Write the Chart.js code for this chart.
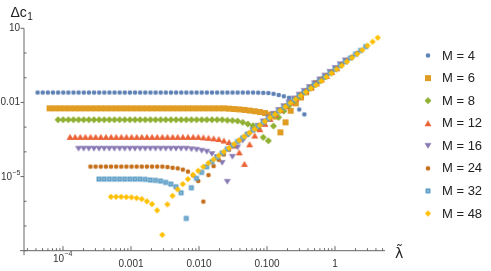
<!DOCTYPE html>
<html>
<head>
<meta charset="utf-8">
<script src="https://cdn.jsdelivr.net/npm/chart.js@4.4.1/dist/chart.umd.min.js"></script>
<style>
  html, body { margin: 0; padding: 0; background: #fff; }
  #wrap { position: relative; width: 491px; height: 271px; }
</style>
</head>
<body>
<div id="wrap"><canvas id="chart" width="491" height="271"></canvas></div>
<script>
// base coupling grid (lambda-tilde = M * lambda)
const lambdaGrid = [
  1.057e-5, 1.257e-5, 1.496e-5, 1.780e-5, 2.118e-5, 2.519e-5, 2.997e-5, 3.566e-5, 4.242e-5, 5.047e-5, 6.004e-5, 7.142e-5, 8.499e-5,
  1.011e-4, 1.203e-4, 1.431e-4, 1.702e-4, 2.025e-4, 2.409e-4, 2.867e-4, 3.411e-4, 4.057e-4, 4.828e-4, 5.743e-4, 6.832e-4, 8.128e-4, 9.670e-4,
  1.151e-3, 1.369e-3, 1.628e-3, 1.937e-3, 2.304e-3, 2.742e-3, 3.262e-3, 3.881e-3, 4.617e-3, 5.493e-3, 6.535e-3, 7.775e-3, 9.252e-3,
  1.100e-2, 1.309e-2, 1.557e-2, 1.853e-2, 2.204e-2, 2.623e-2, 3.120e-2, 3.713e-2, 4.417e-2, 5.255e-2, 6.252e-2, 7.437e-2, 8.849e-2
];

const mValues = [4, 6, 8, 12, 16, 24, 32, 48];

// |delta c1| for each M, one value per grid point
const dc4 = [
  0.0252, 0.0252, 0.0252, 0.0252, 0.0252, 0.0252, 0.0252, 0.0252, 0.0252, 0.0252, 0.0252, 0.0252, 0.0252,
  0.0252, 0.0252, 0.0252, 0.0252, 0.0252, 0.0252, 0.0252, 0.0252, 0.0252, 0.0252, 0.0252, 0.0252, 0.0252,
  0.0252, 0.0252, 0.0252, 0.0252, 0.0252, 0.0252, 0.0252, 0.0252, 0.0252, 0.0252, 0.0252, 0.0252, 0.0252,
  0.0252, 0.0252, 0.0252, 0.0252, 0.0248, 0.0245, 0.0240, 0.0222, 0.0200, 0.0177, 0.0154, 0.0114, 0.0052, 0.0033
];
const dc6 = [
  0.00577, 0.00577, 0.00577, 0.00577, 0.00577, 0.00577, 0.00577, 0.00577, 0.00577, 0.00577, 0.00577, 0.00577,
  0.00577, 0.00577, 0.00577, 0.00577, 0.00577, 0.00577, 0.00577, 0.00577, 0.00577, 0.00577, 0.00577, 0.00577,
  0.00577, 0.00577, 0.00577, 0.00577, 0.00577, 0.00577, 0.00577, 0.00577, 0.00577, 0.00577, 0.00577,
  0.0056, 0.0054, 0.00521, 0.00497, 0.0047, 0.0044, 0.00409, 0.00372, 0.00324, 0.00269, 0.000615,
  0.00156, 0.00461, 0.0092, 0.0159, 0.0256, 0.0394, 0.0598
];
const dc8 = [
  0.0020, 0.0020, 0.0020, 0.0020, 0.0020, 0.0020, 0.0020, 0.0020, 0.0020, 0.0020, 0.0020,
  0.0020, 0.0020, 0.0020, 0.0020, 0.0020, 0.0020, 0.0020, 0.0020, 0.0020, 0.0020, 0.0020,
  0.0020, 0.0020, 0.0020, 0.0020, 0.0020, 0.0020, 0.0020, 0.0020, 0.0020, 0.0020, 0.0020,
  0.0019, 0.00185, 0.00177, 0.00156, 0.00134, 0.00114, 0.000878, 0.000386, 0.000281, 0.00111,
  0.00249, 0.00445, 0.00735, 0.0115, 0.0173, 0.0261, 0.0372, 0.0531, 0.0757, 0.1077
];
const dc12 = [
  4.05e-4, 4.05e-4, 4.05e-4, 4.05e-4, 4.05e-4, 4.05e-4, 4.05e-4, 4.05e-4, 4.05e-4, 4.05e-4, 4.05e-4, 4.05e-4, 4.05e-4,
  4.05e-4, 4.05e-4, 4.05e-4, 4.05e-4, 4.05e-4, 4.05e-4, 4.05e-4, 4.05e-4, 4.05e-4, 4.05e-4, 4.05e-4, 4.05e-4, 4.05e-4,
  3.86e-4, 3.72e-4, 3.52e-4, 3.30e-4, 2.87e-4, 2.49e-4, 1.80e-4, 9.55e-5, 3.27e-5, 2.03e-4, 4.57e-4,
  8.22e-4, 1.37e-3, 2.17e-3, 3.27e-3, 4.92e-3, 7.01e-3, 0.0100, 0.0144, 0.0205, 0.0292, 0.0416,
  0.0593, 0.0845, 0.1194, 0.170, 0.243
];
const dc16 = [
  1.34e-4, 1.34e-4, 1.34e-4, 1.34e-4, 1.34e-4, 1.34e-4, 1.34e-4, 1.34e-4, 1.34e-4, 1.34e-4, 1.34e-4,
  1.34e-4, 1.34e-4, 1.34e-4, 1.34e-4, 1.34e-4, 1.34e-4, 1.34e-4, 1.34e-4, 1.34e-4, 1.34e-4, 1.34e-4,
  1.27e-4, 1.22e-4, 1.11e-4, 1.01e-4, 8.15e-5, 6.15e-5, 3.59e-5, 6.15e-6, 6.33e-5, 1.51e-4, 2.84e-4,
  4.79e-4, 7.56e-4, 1.14e-3, 1.72e-3, 2.45e-3, 3.49e-3, 4.97e-3, 7.08e-3, 0.0101, 0.0144, 0.0207,
  0.0295, 0.0420, 0.0598, 0.0853, 0.1216, 0.173, 0.247, 0.352, 0.506
];
const dc24 = [
  2.54e-5, 2.54e-5, 2.54e-5, 2.54e-5, 2.54e-5, 2.54e-5, 2.54e-5, 2.54e-5, 2.54e-5, 2.54e-5,
  2.54e-5, 2.54e-5, 2.54e-5, 2.54e-5, 2.54e-5,
  2.43e-5, 2.27e-5, 2.15e-5, 1.92e-5, 1.59e-5, 1.12e-5, 6.58e-6, 9.73e-7, 1.15e-5, 2.66e-5,
  4.79e-5, 7.78e-5, 1.23e-4, 1.87e-4, 2.92e-4, 4.16e-4, 5.93e-4, 8.45e-4, 1.205e-3, 1.72e-3,
  2.45e-3, 3.49e-3, 4.97e-3, 7.08e-3, 0.0101, 0.0144, 0.0205, 0.0292, 0.0416, 0.0593,
  0.0845, 0.1205, 0.172, 0.245, 0.349, 0.497, 0.708, 1.01
];
const dc32 = [
  7.92e-6, 7.92e-6, 7.92e-6, 7.92e-6, 7.92e-6, 7.92e-6, 7.92e-6, 7.92e-6, 7.92e-6,
  7.71e-6, 7.22e-6, 7.02e-6, 6.58e-6, 5.82e-6, 4.97e-6, 3.86e-6, 2.21e-6, 2.03e-7, 3.52e-6,
  8.45e-6, 1.48e-5, 2.49e-5, 3.97e-5, 5.93e-5, 8.93e-5, 1.29e-4, 1.82e-4, 2.59e-4, 3.69e-4,
  5.26e-4, 7.49e-4, 1.07e-3, 1.52e-3, 2.17e-3, 3.09e-3, 4.40e-3, 6.28e-3, 9.02e-3, 0.0127,
  0.0182, 0.0259, 0.0369, 0.0526, 0.0749, 0.107, 0.152, 0.217, 0.309, 0.441, 0.628, 0.894, 1.27, 1.82
];
const dc48 = [
  1.52e-6, 1.52e-6, 1.52e-6, 1.48e-6, 1.44e-6, 1.35e-6, 1.23e-6, 9.91e-7, 7.71e-7, 4.29e-7, 4.41e-8,
  7.49e-7, 1.67e-6, 3.03e-6, 4.97e-6, 7.92e-6, 1.18e-5, 1.72e-5, 2.49e-5, 3.52e-5, 4.97e-5, 7.08e-5,
  1.01e-4, 1.44e-4, 2.05e-4, 2.92e-4, 4.16e-4, 5.93e-4, 8.45e-4, 1.205e-3, 1.72e-3, 2.45e-3, 3.30e-3,
  4.61e-3, 6.70e-3, 9.46e-3, 0.0134, 0.0187, 0.0264, 0.0372, 0.0506, 0.0734, 0.107, 0.151, 0.219,
  0.306, 0.445, 0.646, 0.912, 1.32, 1.98, 2.87, 4.16
];

// tick labels; "10^-4" style entries are drawn with a raised exponent
const xTickValues = [1e-4, 1e-3, 1e-2, 1e-1, 1];
const xTickText = ['10^\u22124', '0.001', '0.010', '0.100', '1'];
const yTickValues = [1e-5, 1e-2, 10];
const yTickText = ['10^\u22125', '0.01', '10'];

const colors = ['#5E81B5', '#E19C24', '#8FB032', '#EB6235', '#8778B3', '#C56E1A', '#5D9EC7', '#FFBF00'];
const shapes = ['circle', 'square', 'diamond', 'triangle', 'triangleDown', 'circle', 'squareDot', 'diamondSmall'];

function makeMarker(color, shape) {
  const c = document.createElement('canvas');
  c.width = 10; c.height = 10;
  const g = c.getContext('2d');
  g.translate(5, 5);
  g.fillStyle = color;
  g.strokeStyle = color;
  g.lineJoin = 'round';
  g.beginPath();
  if (shape === 'circle') {
    g.arc(0, 0, 2.3, 0, Math.PI * 2);
  } else if (shape === 'square') {
    g.rect(-3, -3, 6, 6);
  } else if (shape === 'squareDot') {
    g.rect(-2.5, -2.5, 5, 5);
  } else if (shape === 'diamond') {
    g.moveTo(0, -3.1); g.lineTo(3.1, 0); g.lineTo(0, 3.1); g.lineTo(-3.1, 0); g.closePath();
    g.lineWidth = 0.9; g.stroke();
  } else if (shape === 'diamondSmall') {
    g.moveTo(0, -2.7); g.lineTo(2.7, 0); g.lineTo(0, 2.7); g.lineTo(-2.7, 0); g.closePath();
    g.lineWidth = 0.7; g.stroke();
  } else if (shape === 'triangle') {
    g.moveTo(0, -3); g.lineTo(3.5, 3); g.lineTo(-3.5, 3); g.closePath();
  } else if (shape === 'triangleDown') {
    g.moveTo(-3.5, -2.8); g.lineTo(3.5, -2.8); g.lineTo(0, 2.8); g.closePath();
  }
  g.fill();
  if (shape === 'squareDot') {
    g.fillStyle = 'rgba(255,255,255,0.75)';
    g.fillRect(-0.6, -0.6, 1.2, 1.2);
  }
  return c;
}

const markers = colors.map((col, i) => makeMarker(col, shapes[i]));
const series = [dc4, dc6, dc8, dc12, dc16, dc24, dc32, dc48];

const datasets = mValues.map((M, i) => ({
  label: 'M = ' + M,
  data: series[i].map((v, k) => ({ x: lambdaGrid[k] * M, y: v })),
  pointStyle: markers[i],
  pointRadius: 4,
  pointHoverRadius: 4,
  backgroundColor: colors[i],
  borderColor: colors[i],
  showLine: false,
  order: mValues.length - 1 - i
}));

const FONT = '"Liberation Sans", Arial, sans-serif';
const tickFont = { family: FONT, size: 10 };
const plainLabel = t => (t.indexOf('^') < 0 ? t : '');

// draws "10^e" as base + raised exponent; align: 'center' or 'right'
function drawPower(ctx, text, x, y, align) {
  const [base, exp] = text.split('^');
  ctx.font = '10px ' + FONT;
  const wb = ctx.measureText(base).width;
  ctx.font = '7px ' + FONT;
  const we = ctx.measureText(exp).width;
  const left = align === 'right' ? x - wb - we : x - wb + 1;
  ctx.font = '10px ' + FONT;
  ctx.fillText(base, left, y);
  ctx.font = '7px ' + FONT;
  ctx.fillText(exp, left + wb + 0.3, y - 4.5);
}

// Mathematica-style axes: lines, inward/outward tick marks
const axesPlugin = {
  id: 'axes',
  beforeDatasetsDraw(chart) {
    const ctx = chart.ctx;
    const xs = chart.scales.x, ys = chart.scales.y;
    const x0 = xs.left, y0 = ys.bottom;
    ctx.save();
    ctx.strokeStyle = '#666';
    ctx.lineWidth = 1;
    const seg = (a, b, c, d) => { ctx.beginPath(); ctx.moveTo(a, b); ctx.lineTo(c, d); ctx.stroke(); };
    seg(x0, ys.top, x0, y0 + 4.5);
    seg(x0 - 4, y0, xs.right, y0);
    for (let e = -8; e <= 1; e++) {
      const v = Math.pow(10, e);
      const py = ys.getPixelForValue(v);
      if (yTickValues.some(t => Math.abs(Math.log10(t) - e) < 1e-9)) seg(x0 - 3.5, py, x0, py);
      else seg(x0, py, x0 + 2.5, py);
    }
    for (let e = -5; e <= 0; e++) {
      for (let m = 1; m <= 9; m++) {
        const v = m * Math.pow(10, e);
        if (v < xs.min || v > xs.max) continue;
        const px = xs.getPixelForValue(v);
        seg(px, y0, px, y0 - (m === 1 ? 4.5 : 2.5));
      }
    }
    // power-of-ten tick labels
    ctx.fillStyle = '#333';
    ctx.textBaseline = 'middle';
    ctx.textAlign = 'left';
    xTickValues.forEach((v, i) => {
      if (xTickText[i].indexOf('^') >= 0) drawPower(ctx, xTickText[i], xs.getPixelForValue(v), 259, 'center');
    });
    yTickValues.forEach((v, i) => {
      if (yTickText[i].indexOf('^') >= 0) drawPower(ctx, yTickText[i], x0 - 4, ys.getPixelForValue(v) + 1, 'right');
    });
    ctx.restore();
  }
};

const legendPlugin = {
  id: 'sideLegend',
  afterDraw(chart) {
    const ctx = chart.ctx;
    ctx.save();
    ctx.font = '13px ' + FONT;
    ctx.fillStyle = '#222';
    ctx.textBaseline = 'middle';
    chart.data.datasets.forEach((ds, i) => {
      const y = 55.5 + 22.57 * i;
      const m = ds.pointStyle;
      ctx.drawImage(m, 428 - m.width / 2, y - m.height / 2);
      ctx.fillText(ds.label, 442, y + 0.5);
    });
    // axis titles
    ctx.textBaseline = 'alphabetic';
    ctx.font = '14px ' + FONT;
    ctx.fillText('\u0394c', 10.5, 17);
    const w = ctx.measureText('\u0394c').width;
    ctx.font = '10px ' + FONT;
    ctx.fillText('1', 10.5 + w + 0.5, 20);
    ctx.font = '14px "DejaVu Sans", sans-serif';
    ctx.fillText('\u03BB\u0303', 395, 258);
    ctx.restore();
  }
};

new Chart(document.getElementById('chart'), {
  type: 'scatter',
  data: { datasets },
  options: {
    responsive: false,
    animation: false,
    events: [],
    layout: { padding: { left: 0, right: 106, top: 28.3, bottom: 0 } },
    plugins: { legend: { display: false }, tooltip: { enabled: false } },
    scales: {
      x: {
        type: 'logarithmic',
        min: 2.669e-5,
        max: 5.435,
        grid: { display: false, drawTicks: false },
        border: { display: false },
        afterFit: s => { s.height = 20.3; },
        afterBuildTicks: s => { s.ticks = xTickValues.map(v => ({ value: v })); },
        ticks: {
          autoSkip: false, maxRotation: 0, padding: 8,
          color: '#333', font: tickFont,
          callback: (v, i) => plainLabel(xTickText[i])
        }
      },
      y: {
        type: 'logarithmic',
        min: 1e-8,
        max: 10,
        grid: { display: false, drawTicks: false },
        border: { display: false },
        afterFit: s => { s.width = 24; },
        afterBuildTicks: s => { s.ticks = yTickValues.map(v => ({ value: v })); },
        ticks: {
          autoSkip: false, padding: 4,
          color: '#333', font: tickFont,
          callback: (v, i) => plainLabel(yTickText[i])
        }
      }
    }
  },
  plugins: [axesPlugin, legendPlugin]
});
</script>
</body>
</html>
